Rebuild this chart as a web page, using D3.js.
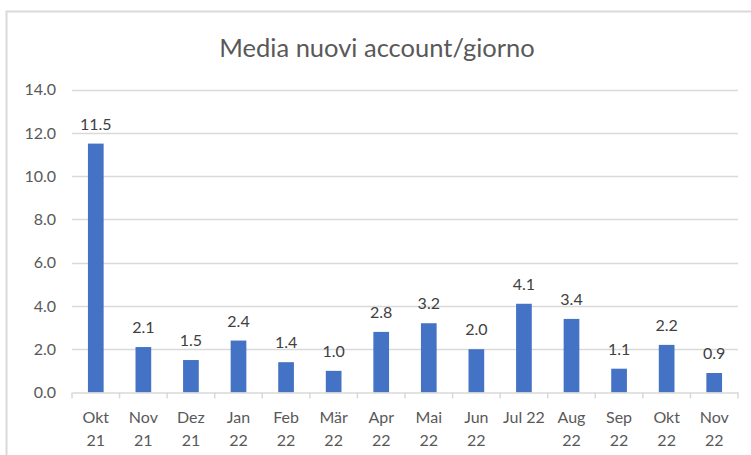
<!DOCTYPE html>
<html>
<head>
<meta charset="utf-8">
<script src="https://cdn.jsdelivr.net/npm/d3@7"></script>
<style>
  body { margin: 0; background: #fff; }
  svg { display: block; font-family: Lato, "Open Sans", sans-serif; }
</style>
</head>
<body>
<svg id="chart" width="751" height="455"></svg>
<script>
// month labels (two lines each, "Jul 22" fits on one line)
var months = ["Okt 21", "Nov 21", "Dez 21", "Jan 22", "Feb 22", "Mär 22", "Apr 22",
              "Mai 22", "Jun 22", "Jul 22", "Aug 22", "Sep 22", "Okt 22", "Nov 22"];
var values = [11.5, 2.1, 1.5, 2.4, 1.4, 1.0, 2.8, 3.2, 2.0, 4.1, 3.4, 1.1, 2.2, 0.9];
var yTicks = [0, 2, 4, 6, 8, 10, 12, 14];

var svg = d3.select("#chart");

// chart frame, runs off the right and bottom edge
svg.append("rect")
    .attr("x", 6.5).attr("y", 11.5)
    .attr("width", 800).attr("height", 500)
    .attr("fill", "#fff")
    .attr("stroke", "#d9d9d9")
    .attr("stroke-width", 2);

// title
svg.append("text")
    .attr("x", 377).attr("y", 57)
    .attr("text-anchor", "middle")
    .style("font-size", "25.5px")
    .style("fill", "#595959")
    .text("Media nuovi account/giorno");

var pLeft = 72, pRight = 738, pTop = 89.5, pBottom = 392.5;

var x = d3.scaleBand()
    .domain(months)
    .range([pLeft, pRight])
    .paddingInner(0.67)
    .paddingOuter(0.335);

var xb = d3.scaleBand().domain(months).range([pLeft, pRight]);

var y = d3.scaleLinear()
    .domain([0, 14])
    .range([pBottom, pTop]);

// gridlines
svg.append("g")
    .selectAll("line")
    .data(yTicks.slice(1))
    .enter()
    .append("line")
    .attr("x1", pLeft).attr("x2", pRight)
    .attr("y1", function(d){ return Math.round(y(d)) + 0.5; })
    .attr("y2", function(d){ return Math.round(y(d)) + 0.5; })
    .attr("stroke", "#d9d9d9")
    .attr("stroke-width", 1.5);

// y labels
svg.append("g")
    .selectAll("text")
    .data(yTicks)
    .enter()
    .append("text")
    .attr("x", 56)
    .attr("y", function(d){ return y(d); })
    .attr("dy", "0.36em")
    .attr("text-anchor", "end")
    .style("font-size", "16px")
    .style("fill", "#595959")
    .text(function(d){ return d3.format(".1f")(d); });

// bars
svg.append("g")
    .selectAll("rect")
    .data(values)
    .enter()
    .append("rect")
    .attr("x", function(d, i){ return x(months[i]); })
    .attr("y", function(d){ return y(d); })
    .attr("width", x.bandwidth())
    .attr("height", function(d){ return y(0) - y(d); })
    .attr("fill", "#4472c4");

// value labels
svg.append("g")
    .selectAll("text")
    .data(values)
    .enter()
    .append("text")
    .attr("x", function(d, i){ return x(months[i]) + x.bandwidth() / 2; })
    .attr("y", function(d){ return y(d) - 14; })
    .attr("text-anchor", "middle")
    .style("font-size", "16px")
    .style("fill", "#404040")
    .text(function(d){ return d3.format(".1f")(d); });

// x axis line
var gx = svg.append("g")
    .attr("transform", "translate(0," + pBottom + ")")
    .call(d3.axisBottom(xb).tickSize(0).tickFormat(""));
gx.select(".domain").attr("stroke", "#d9d9d9").attr("stroke-width", 1.5);

// tick marks between categories
svg.append("g")
    .selectAll("line")
    .data(months.concat(["end"]))
    .enter()
    .append("line")
    .attr("x1", function(d, i){ return pLeft + i * xb.bandwidth(); })
    .attr("x2", function(d, i){ return pLeft + i * xb.bandwidth(); })
    .attr("y1", pBottom).attr("y2", pBottom + 6)
    .attr("stroke", "#d9d9d9")
    .attr("stroke-width", 1.5);

// x labels
var labels = svg.append("g")
    .selectAll("text")
    .data(months)
    .enter()
    .append("text")
    .attr("text-anchor", "middle")
    .style("font-size", "16px")
    .style("fill", "#595959");

labels.each(function(d){
    var t = d3.select(this);
    var cx = xb(d) + xb.bandwidth() / 2;
    if (d == "Jul 22") {
        t.append("tspan").attr("x", cx).attr("y", 423).text(d);
    } else {
        var parts = d.split(" ");
        t.append("tspan").attr("x", cx).attr("y", 423).text(parts[0]);
        t.append("tspan").attr("x", cx).attr("y", 445.5).text(parts[1]);
    }
});
</script>
</body>
</html>
